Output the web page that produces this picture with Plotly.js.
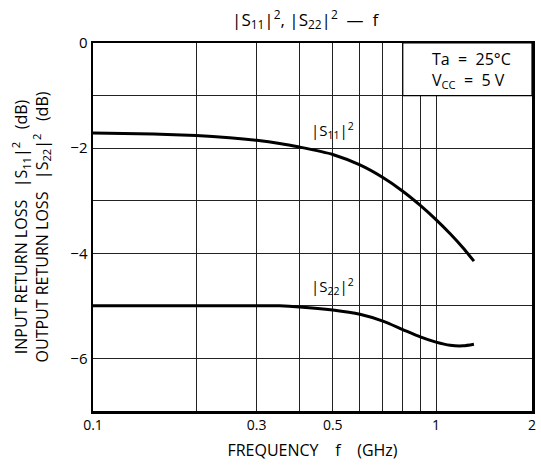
<!DOCTYPE html>
<html>
<head>
<meta charset="utf-8">
<script src="https://cdn.plot.ly/plotly-3.0.1.min.js"></script>
<style>html,body{margin:0;padding:0;background:#fff;}#chart{width:541px;height:474px;}</style>
</head>
<body>
<div id="chart"></div>
<script>
// Data
const freqS11 = [0.1, 0.15, 0.2, 0.25, 0.3, 0.35, 0.4, 0.5, 0.6, 0.7, 0.8, 0.9, 1.0, 1.1, 1.2, 1.29];
const s11 = [-1.71, -1.73, -1.76, -1.80, -1.85, -1.91, -1.98, -2.12, -2.32, -2.56, -2.82, -3.09, -3.36, -3.63, -3.90, -4.15];
const freqS22 = [0.1, 0.2, 0.3, 0.35, 0.4, 0.5, 0.6, 0.7, 0.8, 0.9, 1.0, 1.1, 1.2, 1.29];
const s22 = [-5.0, -5.0, -5.0, -5.0, -5.02, -5.08, -5.16, -5.29, -5.45, -5.59, -5.69, -5.75, -5.76, -5.73];
const xTickVals = [0.1, 0.3, 0.5, 1, 1.905];
const xTickText = ["0.1", "0.3", "0.5", "1", "2"];
const xGridVals = [0.2, 0.4, 0.6, 0.7, 0.8, 0.9];
const yTickVals = [0, -2, -4, -6];
const yTickText = ["0", "\u22122", "\u22124", "\u22126"];
const yGridVals = [-1, -3, -5, -7];

const FONT = "Open Sans, DejaVu Sans, sans-serif";
const traces = [
  {x: freqS11, y: s11, mode: "lines", line: {color: "#000", width: 3, shape: "spline", smoothing: 0.6}, hoverinfo: "skip"},
  {x: freqS22, y: s22, mode: "lines", line: {color: "#000", width: 3, shape: "spline", smoothing: 0.6}, hoverinfo: "skip"}
];
const layout = {
  width: 541, height: 474,
  margin: {l: 93, r: 9, t: 43, b: 63},
  paper_bgcolor: "#fff", plot_bgcolor: "#fff",
  showlegend: false,
  font: {family: FONT, color: "#000", size: 14},
  title: {text: "|S<sub>11</sub>|<sup>2</sup>, |S<sub>22</sub>|<sup>2</sup>\u00a0 \u2014 \u00a0f", font: {size: 17, family: FONT}, x: 0.564, xanchor: "center", y: 0.958, yanchor: "middle"},
  xaxis: {
    type: "log", range: [-1, Math.log10(1.905)],
    tickmode: "array", tickvals: xTickVals, ticktext: xTickText,
    showgrid: true, gridcolor: "#222", gridwidth: 1,
    minor: {tickmode: "array", tickvals: xGridVals, showgrid: true, gridcolor: "#222", gridwidth: 1, ticks: ""},
    showline: true, linecolor: "#000", linewidth: 2.5, mirror: true,
    ticks: "", tickfont: {size: 14}, zeroline: false,
    title: {text: "FREQUENCY    f    (GHz)", font: {size: 16}, standoff: 12}
  },
  yaxis: {
    range: [-7, 0],
    tickmode: "array", tickvals: yTickVals, ticktext: yTickText,
    showgrid: true, gridcolor: "#222", gridwidth: 1,
    minor: {tickmode: "array", tickvals: yGridVals, showgrid: true, gridcolor: "#222", gridwidth: 1, ticks: ""},
    showline: true, linecolor: "#000", linewidth: 2.5, mirror: true,
    ticks: "", tickfont: {size: 15}, zeroline: false,
    title: {text: "INPUT RETURN LOSS   |S<sub>11</sub>|<sup>2</sup>   (dB)<br>OUTPUT RETURN LOSS   |S<sub>22</sub>|<sup>2</sup>   (dB)", font: {size: 16}, standoff: 18}
  },
  shapes: [
    {type: "rect", xref: "x", yref: "y", x0: 0.8, x1: 1.905, y0: -1, y1: 0, fillcolor: "#fff", line: {color: "#000", width: 1.2}, layer: "above"}
  ],
  annotations: [
    {xref: "x", yref: "y", x: Math.log10(0.5), y: -1.67, text: "|S<sub>11</sub>|<sup>2</sup>", showarrow: false, font: {size: 15}},
    {xref: "x", yref: "y", x: Math.log10(0.5), y: -4.64, text: "|S<sub>22</sub>|<sup>2</sup>", showarrow: false, font: {size: 15}},
    {xref: "paper", yref: "paper", x: 0.862, y: 0.927, xanchor: "center", yanchor: "middle", text: "Ta  =  25\u00b0C<br>V<sub>CC</sub>  =  5 V", align: "left", showarrow: false, font: {size: 16}}
  ]
};
Plotly.newPlot("chart", traces, layout, {staticPlot: true, displayModeBar: false});
</script>
</body>
</html>
